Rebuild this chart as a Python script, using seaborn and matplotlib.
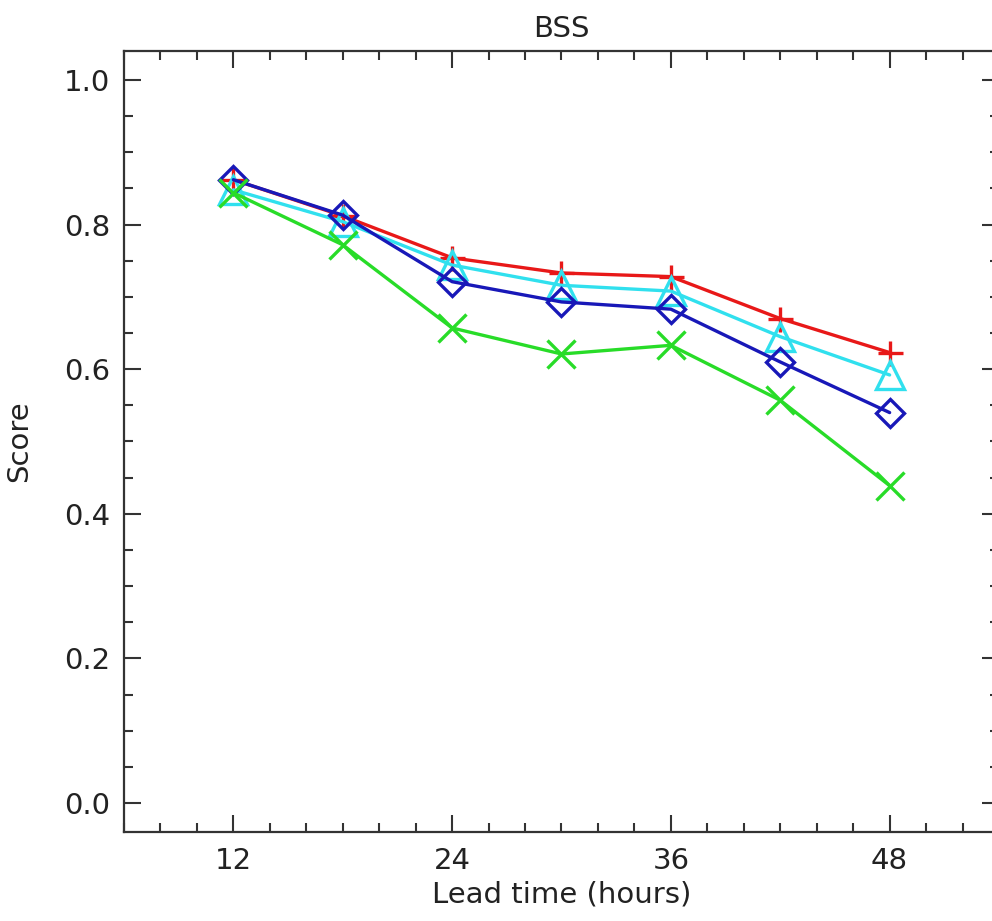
import matplotlib
matplotlib.use("Agg")
import matplotlib.pyplot as plt
import seaborn as sns
import pandas as pd
from matplotlib.ticker import MultipleLocator

# Data
lead_time = [12, 18, 24, 30, 36, 42, 48]
red_plus = [0.862, 0.812, 0.754, 0.733, 0.728, 0.670, 0.623]
cyan_triangle = [0.848, 0.804, 0.744, 0.716, 0.708, 0.645, 0.592]
blue_diamond = [0.862, 0.813, 0.721, 0.693, 0.683, 0.610, 0.540]
green_x = [0.844, 0.772, 0.657, 0.621, 0.633, 0.557, 0.439]

x_ticks = [12, 24, 36, 48]
y_ticks = [0.0, 0.2, 0.4, 0.6, 0.8, 1.0]

series = [
    ("red", red_plus, "#e81818", "+", 18),
    ("cyan", cyan_triangle, "#30e0ee", "^", 19.5),
    ("blue", blue_diamond, "#1818b8", "D", 14.5),
    ("green", green_x, "#28dc28", "x", 20),
]

sns.set_theme(style="white")
plt.rcParams["font.family"] = ["DejaVu Sans"]
axcol = "#333333"
plt.rcParams.update({
    "xtick.direction": "in", "ytick.direction": "in",
    "xtick.top": True, "ytick.right": True,
    "xtick.bottom": True, "ytick.left": True,
    "xtick.major.size": 12.5, "ytick.major.size": 12.5,
    "xtick.minor.size": 6.5, "ytick.minor.size": 6.5,
    "xtick.major.width": 1.5, "ytick.major.width": 1.5,
    "xtick.minor.width": 1.5, "ytick.minor.width": 1.5,
    "xtick.color": axcol, "ytick.color": axcol,
})

fig = plt.figure(figsize=(9.92, 9.21), dpi=100)
ax = fig.add_axes([124 / 992, (921 - 832) / 921, (999 - 124) / 992, (832 - 51) / 921])

for name, vals, col, mk, ms in series:
    df = pd.DataFrame({"Lead time": lead_time, "Score": vals})
    sns.lineplot(data=df, x="Lead time", y="Score", ax=ax, color=col,
                 linewidth=2.4, marker=mk, markersize=ms,
                 markerfacecolor="none", markeredgecolor=col,
                 markeredgewidth=2.4, legend=False)

ax.set_xlim(6, 54)
ax.set_ylim(-0.04, 1.04)
ax.set_xticks(x_ticks)
ax.set_xticklabels([str(t) for t in x_ticks])
ax.set_yticks(y_ticks)
ax.set_yticklabels([f"{t:.1f}" for t in y_ticks])
ax.xaxis.set_minor_locator(MultipleLocator(2))
ax.yaxis.set_minor_locator(MultipleLocator(0.05))

for sp in ax.spines.values():
    sp.set_visible(True)
    sp.set_color(axcol)
    sp.set_linewidth(1.6)

ax.tick_params(which="both", direction="in", top=True, right=True,
               bottom=True, left=True)
ax.tick_params(which="major", labelsize=21, labelcolor="#222222")
ax.tick_params(axis="x", which="major", pad=11)
ax.tick_params(axis="y", which="major", pad=10)

ax.set_xlabel("Lead time (hours)", fontsize=21, color="#222222", labelpad=4)
ax.set_ylabel("Score", fontsize=21, color="#222222", labelpad=22)
ax.set_title("BSS", fontsize=21, color="#222222", pad=10)
ax.grid(False)

fig.savefig("out.png", dpi=100, facecolor="white")
